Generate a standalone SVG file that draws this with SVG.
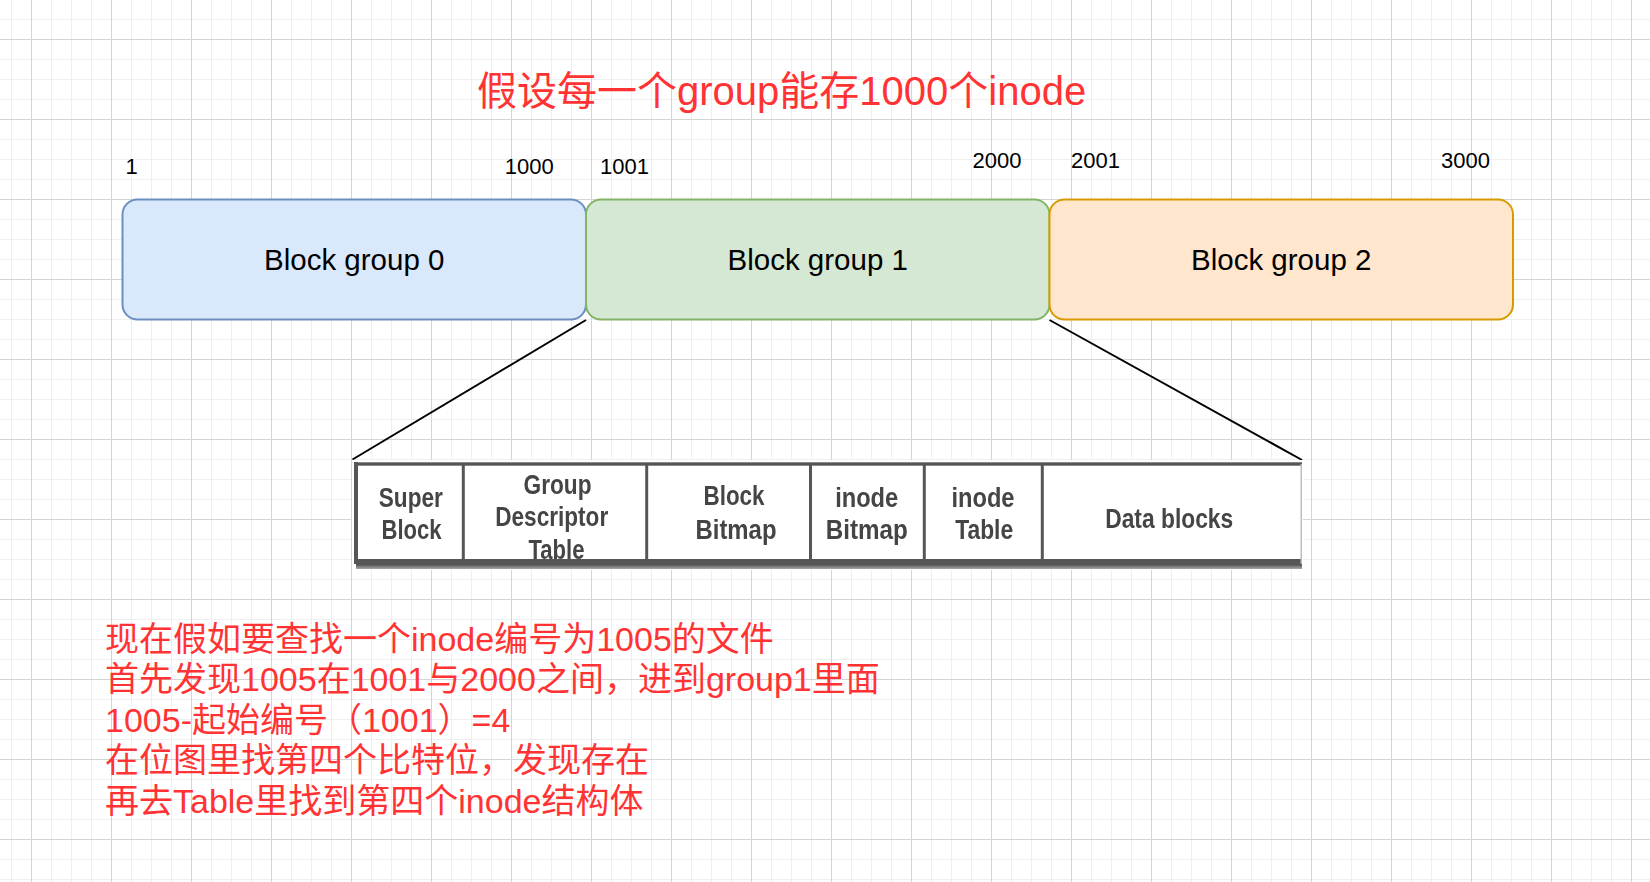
<svg xmlns="http://www.w3.org/2000/svg" width="1650" height="882" viewBox="0 0 1650 882">
<defs>
<style>
.lbl{font-family:"Liberation Sans",Arial,sans-serif;font-size:22px;fill:#000}
.box{stroke-width:2}
.btxt{font-family:"Liberation Sans",Arial,sans-serif;font-size:29.5px;fill:#000;text-anchor:middle}
.red{font-family:"Liberation Sans","Noto Sans CJK SC",sans-serif;fill:#FF3333}
.ins{font-family:"Liberation Sans",Arial,sans-serif;font-size:28px;font-weight:bold;fill:#444}
.conn{stroke:#000;stroke-width:2;fill:none}
.frame{fill:#575757}
</style>
<pattern id="minor" x="11" y="19" width="20" height="20" patternUnits="userSpaceOnUse"><rect width="20" height="1" fill="#efefef"/><rect width="1" height="20" fill="#efefef"/></pattern>
<pattern id="major" x="31" y="39" width="80" height="80" patternUnits="userSpaceOnUse"><rect width="80" height="1" fill="#d4d4d4"/><rect width="1" height="80" fill="#d4d4d4"/></pattern>
<linearGradient id="shadow" x1="0" y1="0" x2="0" y2="1"><stop offset="0" stop-color="#4a4a4a"/><stop offset="1" stop-color="#a8a8a8"/></linearGradient>
<filter id="soft" x="-5%" y="-5%" width="110%" height="110%"><feGaussianBlur stdDeviation="0.7"/></filter>
</defs>
<rect width="1650" height="882" fill="#fff"/>
<rect width="1650" height="882" fill="url(#minor)"/>
<rect width="1650" height="882" fill="url(#major)"/>

<g id="title"><text class="red" x="477" y="105" font-size="40">假设每一个group能存1000个inode</text></g>

<g id="labels">
<text class="lbl" x="125.5" y="173.5">1</text>
<text class="lbl" x="504.8" y="173.5">1000</text>
<text class="lbl" x="600" y="173.5">1001</text>
<text class="lbl" x="972.5" y="168">2000</text>
<text class="lbl" x="1071" y="168">2001</text>
<text class="lbl" x="1441" y="168">3000</text>
</g>

<g id="block-group-0"><rect class="box" x="122.5" y="199.5" width="463.5" height="120" rx="15" fill="#dae8fc" stroke="#6c8ebf"/><text class="btxt" x="354.2" y="270">Block group 0</text></g>
<g id="block-group-1"><rect class="box" x="586" y="199.5" width="463.5" height="120" rx="15" fill="#d5e8d4" stroke="#82b366"/><text class="btxt" x="817.7" y="270">Block group 1</text></g>
<g id="block-group-2"><rect class="box" x="1049.5" y="199.5" width="463.5" height="120" rx="15" fill="#ffe6cc" stroke="#d79b00"/><text class="btxt" x="1281.2" y="270">Block group 2</text></g>

<g id="connectors">
<line class="conn" x1="586" y1="320" x2="352.5" y2="459.5"/>
<line class="conn" x1="1049.5" y1="320" x2="1302" y2="460"/>
</g>

<g id="layout">
<rect x="352" y="460" width="951" height="110" fill="#fff"/>
<g filter="url(#soft)">
<rect x="354" y="462" width="948" height="4" fill="#8a8a8a"/>
<rect x="354" y="463" width="948" height="2" class="frame"/>
<rect x="354" y="462" width="4" height="102" class="frame"/>
<rect x="354" y="559" width="948" height="5" class="frame"/>
<rect x="356" y="564" width="946" height="5" fill="url(#shadow)"/>
<rect x="1300.5" y="464" width="1.5" height="100" fill="#bdbdbd"/>
<rect x="461.8" y="464" width="3" height="96" class="frame"/>
<rect x="645.2" y="464" width="3" height="96" class="frame"/>
<rect x="809" y="464" width="3" height="96" class="frame"/>
<rect x="922.8" y="464" width="3" height="96" class="frame"/>
<rect x="1040.8" y="464" width="3" height="96" class="frame"/>
<text class="ins" x="378.8" y="507" textLength="64" lengthAdjust="spacingAndGlyphs">Super</text>
<text class="ins" x="381.5" y="539" textLength="60" lengthAdjust="spacingAndGlyphs">Block</text>
<text class="ins" x="523.5" y="494" textLength="68" lengthAdjust="spacingAndGlyphs">Group</text>
<text class="ins" x="495.2" y="526" textLength="113" lengthAdjust="spacingAndGlyphs">Descriptor</text>
<text class="ins" x="528.5" y="559" textLength="56" lengthAdjust="spacingAndGlyphs">Table</text>
<text class="ins" x="703.5" y="505" textLength="61" lengthAdjust="spacingAndGlyphs">Block</text>
<text class="ins" x="695.5" y="539" textLength="81" lengthAdjust="spacingAndGlyphs">Bitmap</text>
<text class="ins" x="835.2" y="507" textLength="63" lengthAdjust="spacingAndGlyphs">inode</text>
<text class="ins" x="825.8" y="539" textLength="82" lengthAdjust="spacingAndGlyphs">Bitmap</text>
<text class="ins" x="951.5" y="507" textLength="63" lengthAdjust="spacingAndGlyphs">inode</text>
<text class="ins" x="955.2" y="539" textLength="58" lengthAdjust="spacingAndGlyphs">Table</text>
<text class="ins" x="1105.2" y="527.5" textLength="128" lengthAdjust="spacingAndGlyphs">Data blocks</text>
</g>
</g>

<g id="note">
<text class="red" font-size="34" x="105" y="650.5">现在假如要查找一个inode编号为1005的文件</text>
<text class="red" font-size="34" x="105" y="691">首先发现1005在1001与2000之间，进到group1里面</text>
<text class="red" font-size="34" x="105" y="731.5">1005-起始编号（1001）=4</text>
<text class="red" font-size="34" x="105" y="772">在位图里找第四个比特位，发现存在</text>
<text class="red" font-size="34" x="105" y="812.5">再去Table里找到第四个inode结构体</text>
</g>
</svg>
